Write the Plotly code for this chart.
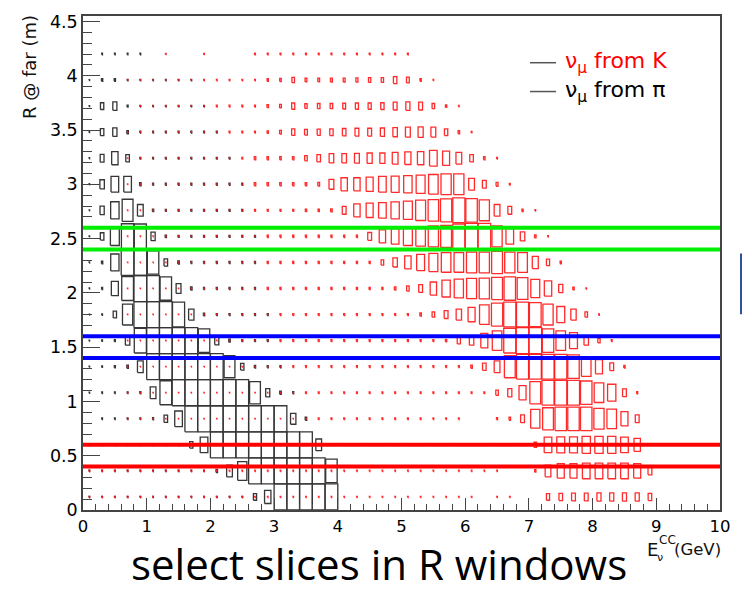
import plotly.graph_objects as go

# ---- histogram binning: E (GeV) on x, R at far detector (m) on y ----
E_LO, E_W, E_N = 0.0, 0.2, 50
R_LO, R_W, R_N = 0.0, 0.24, 18

# Bin contents, in percent of each histogram's maximum.
# One list per R bin (bottom to top); entry i is E bin i.
nu_pi = [
    [5]*13 + [25, 50, 100, 100, 100, 100, 100],
    [5]*10 + [12, 45, 72, 100, 100, 100, 100, 100, 100, 90],
    [5]*8 + [25, 60] + [100]*8 + [45],
    [0, 6, 6, 6, 6, 8, 28, 60] + [100]*8 + [42, 12],
    [4, 6, 6, 6, 8, 45, 92] + [100]*6 + [85, 32, 12, 8],
    [4, 6, 8, 12, 45] + [100]*6 + [85, 26, 10, 8, 8],
    [4, 6, 8, 35, 95, 100, 100, 100, 100, 90, 32, 12, 8, 8, 8],
    [4, 6, 26, 80, 100, 100, 100, 95, 42, 10, 8, 8, 8, 8, 8],
    [4, 8, 55, 92, 100, 100, 90, 38, 12, 8, 8, 8, 8, 8],
    [4, 10, 65, 100, 100, 90, 28, 12, 8, 8, 8, 8, 8, 8],
    [4, 28, 70, 97, 95, 33, 10, 8, 8, 8, 8, 8, 8, 8],
    [4, 33, 66, 85, 45, 10, 8, 8, 8, 8, 8, 8, 8],
    [4, 35, 60, 60, 12, 8, 8, 8, 8, 8, 8, 8, 8],
    [4, 30, 50, 28, 7, 7, 7, 7, 7, 7, 7, 7],
    [4, 27, 33, 12, 7, 7, 7, 7, 7, 7, 7],
    [4, 26, 32, 8, 6, 6, 6, 6, 6, 6],
    [4, 10, 10, 6, 6, 6, 6, 6, 6],
    [0, 6, 6, 6, 6],
]

nu_k = [
    [5]*31 + [0, 5, 5, 0, 0, 25, 28, 30, 30, 32, 32, 32, 32, 28],
    [5]*33 + [0, 0, 10, 45, 55, 55, 60, 60, 60, 60, 55, 30],
    [5]*35 + [20, 60, 62, 62, 65, 65, 65, 60, 50],
    [0, 0, 0, 3] + [3]*14 + [7]*9 + [6, 6, 6, 0, 0, 8, 12, 30, 72, 85, 90, 90, 90, 80, 75, 55, 30],
    [0, 0, 0, 3] + [3]*13 + [7]*15 + [20, 32, 55, 85, 95, 95, 95, 90, 75, 65, 30, 8],
    [0, 0, 0, 3] + [3]*12 + [7]*14 + [12, 28, 45, 85, 95, 95, 95, 95, 90, 75, 55, 30, 10],
    [0, 0, 0, 3] + [3]*11 + [8]*13 + [10, 25, 35, 55, 75, 95, 100, 100, 90, 75, 62, 35, 18, 7],
    [0, 0, 0, 3] + [3]*11 + [8]*11 + [12, 20, 30, 42, 55, 75, 88, 95, 95, 92, 80, 62, 42, 20, 6],
    [0, 0, 0, 3] + [3]*10 + [9]*10 + [12, 20, 30, 50, 65, 72, 78, 80, 85, 90, 84, 70, 58, 32, 11, 5],
    [0, 0, 0, 3] + [3]*10 + [9]*9 + [20, 35, 50, 62, 70, 75, 75, 80, 80, 85, 80, 76, 47, 25, 10],
    [0, 0, 0, 3] + [3]*10 + [9]*8 + [30, 50, 60, 70, 75, 80, 85, 95, 100, 100, 80, 60, 35, 12, 5],
    [0, 0, 0, 3] + [3]*9 + [8]*4 + [10, 10, 12, 30, 50, 55, 60, 65, 70, 78, 82, 88, 95, 90, 80, 45, 30, 10, 5],
    [0, 0, 0, 3] + [3]*9 + [12]*5 + [14, 38, 50, 50, 55, 60, 62, 66, 70, 75, 80, 80, 45, 30, 15, 7],
    [0, 0, 0, 3] + [3]*8 + [7] + [12]*4 + [20, 28, 36, 36, 38, 40, 40, 45, 48, 50, 60, 55, 45, 28, 12, 6],
    [0, 0, 0, 3] + [3]*7 + [7]*3 + [10, 14, 25, 22, 24, 26, 28, 30, 30, 32, 35, 38, 40, 38, 26, 12, 6],
    [0, 0, 0, 0, 3] + [3]*5 + [7]*4 + [12, 14, 24, 18, 20, 20, 22, 24, 24, 26, 30, 32, 30, 20, 10, 5],
    [0, 0, 0, 3, 3] + [3]*4 + [6]*5 + [10, 12, 20, 14, 14, 15, 15, 16, 18, 18, 27, 22, 10, 5],
    [0]*6 + [5, 0, 0, 5, 0, 0, 0] + [7]*13,
]

# R windows used to select slices (m)
r_windows = [(0.4, 0.6), (1.4, 1.6), (2.4, 2.6)]
window_colors = ["#ff0000", "#0000ff", "#00ee00"]

legend_labels = ["ν<sub>μ</sub> from K", "ν<sub>μ</sub> from π"]
legend_colors = ["#ff0000", "#000000"]


def box_outline(rows):
    """Box-style 2D histogram: each cell drawn as a rectangle scaled by its content."""
    xs, ys = [], []
    for j, row in enumerate(rows):
        yc = R_LO + (j + 0.5) * R_W
        for i, v in enumerate(row):
            if v <= 0:
                continue
            s = v / 100.0
            xc = E_LO + (i + 0.5) * E_W
            hx, hy = 0.5 * E_W * s, 0.5 * R_W * s
            xs += [xc - hx, xc + hx, xc + hx, xc - hx, xc - hx, None]
            ys += [yc - hy, yc - hy, yc + hy, yc + hy, yc - hy, None]
    return xs, ys


fig = go.Figure()

px_, py_ = box_outline(nu_pi)
fig.add_trace(go.Scatter(x=px_, y=py_, mode="lines", hoverinfo="skip",
                         line=dict(color="#363636", width=1.3), showlegend=False))
kx_, ky_ = box_outline(nu_k)
fig.add_trace(go.Scatter(x=kx_, y=ky_, mode="lines", hoverinfo="skip",
                         line=dict(color="rgba(255,20,20,0.9)", width=1.3), showlegend=False))

# slice boundaries
for (lo, hi), c in zip(r_windows, window_colors):
    for yv in (lo, hi):
        fig.add_shape(type="line", xref="x domain", yref="y", x0=0, x1=1, y0=yv, y1=yv,
                      line=dict(color=c, width=4), layer="above")

W, H = 743, 591
L, R, T, B = 83, 23, 13, 81
PW, PH = W - L - R, H - T - B


def px(x):
    return (x - L) / PW


def py(y):
    return (H - B - y) / PH


# legend
for k, (lab, col) in enumerate(zip(legend_labels, legend_colors)):
    yy = 60 + 29 * k
    fig.add_shape(type="line", xref="paper", yref="paper", x0=px(530), x1=px(556),
                  y0=py(yy), y1=py(yy), line=dict(color="#555555", width=1.5))
    fig.add_annotation(text=lab, xref="paper", yref="paper", x=px(563), y=py(yy),
                       xanchor="left", yanchor="middle", showarrow=False,
                       font=dict(family="DejaVu Sans", size=22, color=col))

# axis titles
fig.add_annotation(text="R @ far (m)", xref="paper", yref="paper", x=px(29), y=py(10),
                   textangle=-90, xanchor="center", yanchor="top", showarrow=False,
                   font=dict(family="DejaVu Sans", size=18, color="#111111"))
fig.add_annotation(text="E", xref="paper", yref="paper", x=px(652), y=py(550),
                   xanchor="center", yanchor="middle", showarrow=False,
                   font=dict(family="DejaVu Sans", size=18, color="#111111"))
fig.add_annotation(text="CC", xref="paper", yref="paper", x=px(667), y=py(540),
                   xanchor="center", yanchor="middle", showarrow=False,
                   font=dict(family="DejaVu Sans", size=12, color="#111111"))
fig.add_annotation(text="ν", xref="paper", yref="paper", x=px(660), y=py(558),
                   xanchor="center", yanchor="middle", showarrow=False,
                   font=dict(family="DejaVu Sans", size=11, color="#111111"))
fig.add_annotation(text="(GeV)", xref="paper", yref="paper", x=px(723), y=py(550),
                   xanchor="right", yanchor="middle", showarrow=False,
                   font=dict(family="DejaVu Sans", size=16.5, color="#111111"))

# caption
fig.add_annotation(text="select slices in R windows", xref="paper", yref="paper",
                   x=px(379), y=py(563), xanchor="center", yanchor="middle", showarrow=False,
                   height=44, borderpad=0,
                   font=dict(family="Open Sans", size=42, color="#000000"))

# edge of neighbouring slide element
fig.add_shape(type="line", xref="paper", yref="paper", x0=px(741), x1=px(741),
              y0=py(252), y1=py(313), line=dict(color="#2f4f9f", width=2))

axis_common = dict(showgrid=False, zeroline=False, showline=True, mirror=True,
                   linecolor="#444444", linewidth=1.5, ticks="inside", tickcolor="#444444",
                   tickwidth=1)

fig.update_xaxes(range=[0, 10], dtick=1, tick0=0, ticklen=12,
                 tickfont=dict(family="DejaVu Sans", size=16.5, color="#000000"),
                 minor=dict(dtick=0.2, ticklen=6, ticks="inside", tickcolor="#444444"),
                 **axis_common)
fig.update_yaxes(range=[0, 4.55], dtick=0.5, tick0=0, ticklen=17,
                 tickfont=dict(family="DejaVu Sans", size=17.5, color="#000000"),
                 minor=dict(dtick=0.1, ticklen=9, ticks="inside", tickcolor="#444444"),
                 **axis_common)

fig.update_layout(width=W, height=H, margin=dict(l=L, r=R, t=T, b=B),
                  paper_bgcolor="white", plot_bgcolor="white", showlegend=False)

fig.write_html("out.html")
